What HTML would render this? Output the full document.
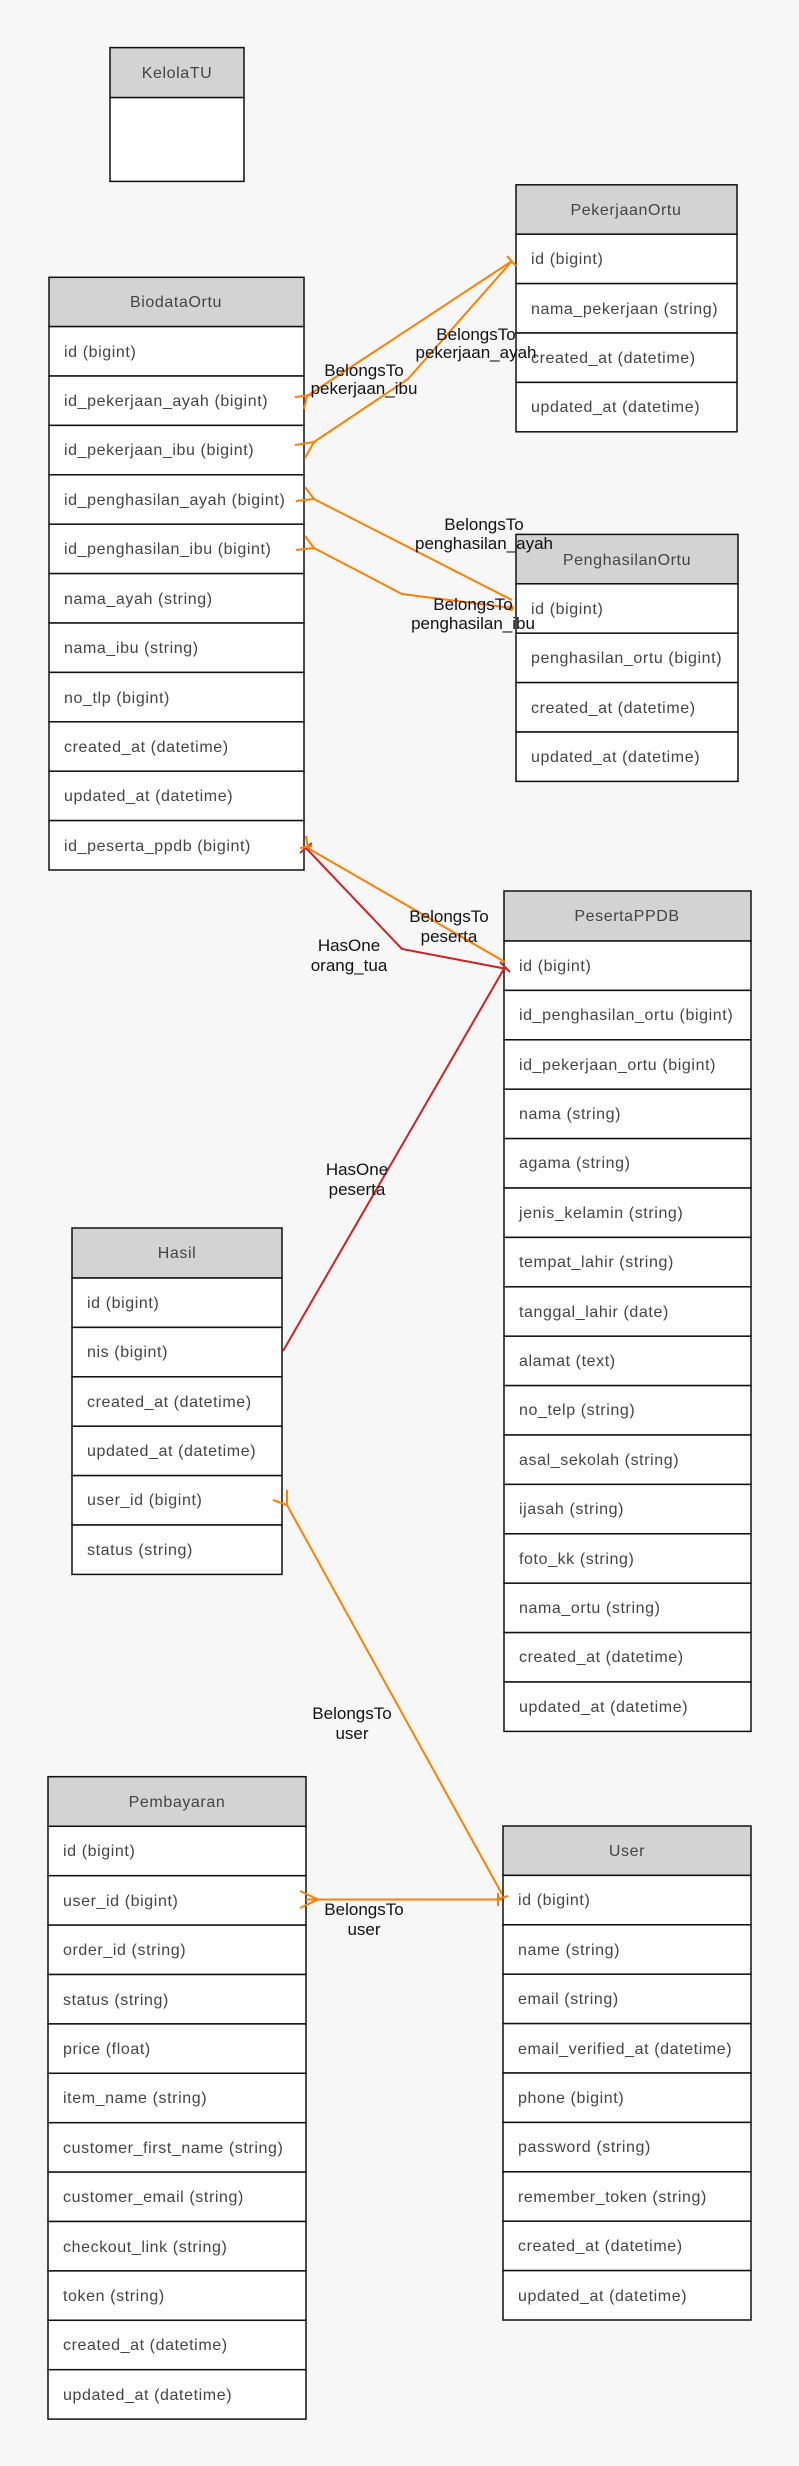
<!DOCTYPE html>
<html><head><meta charset="utf-8"><style>
html,body{margin:0;padding:0;background:#f7f7f7;}
svg{display:block;}
.t{font-family:"Liberation Sans",sans-serif;font-size:16px;letter-spacing:0.6px;fill:#444;}
.h{font-family:"Liberation Sans",sans-serif;font-size:16px;letter-spacing:0.6px;fill:#444;text-anchor:middle;}
.l{font-family:"Liberation Sans",sans-serif;font-size:17px;fill:#111;text-anchor:middle;}
.r{fill:#fff;stroke:#111;stroke-width:1.5;}
.hd{fill:#d3d3d3;stroke:#111;stroke-width:1.5;}
.o{stroke:#ff7f00;stroke-width:2;fill:none;}
.rd{stroke:#d42020;stroke-width:2;fill:none;}
</style></head><body>
<svg width="799" height="2466" viewBox="0 0 799 2466" xmlns="http://www.w3.org/2000/svg">
<rect width="799" height="2466" fill="#f7f7f7"/>

<!-- KelolaTU -->
<rect class="hd" x="110" y="47.6" width="134" height="50"/>
<text class="h" x="177" y="78">KelolaTU</text>
<rect class="r" x="110" y="97.6" width="134" height="83.8"/>

<!-- PekerjaanOrtu -->
<rect class="hd" x="516" y="184.8" width="221" height="49.4"/>
<text class="h" x="626" y="215">PekerjaanOrtu</text>
<rect class="r" x="516" y="234.2" width="221" height="49.4"/><text class="t" x="531" y="264">id (bigint)</text>
<rect class="r" x="516" y="283.6" width="221" height="49.4"/><text class="t" x="531" y="314">nama_pekerjaan (string)</text>
<rect class="r" x="516" y="333" width="221" height="49.4"/><text class="t" x="531" y="363">created_at (datetime)</text>
<rect class="r" x="516" y="382.4" width="221" height="49.4"/><text class="t" x="531" y="412">updated_at (datetime)</text>

<!-- BiodataOrtu -->
<rect class="hd" x="49" y="277.3" width="255" height="49.3"/>
<text class="h" x="176" y="307">BiodataOrtu</text>
<rect class="r" x="49" y="326.6" width="255" height="49.4"/><text class="t" x="64" y="357">id (bigint)</text>
<rect class="r" x="49" y="376" width="255" height="49.4"/><text class="t" x="64" y="406">id_pekerjaan_ayah (bigint)</text>
<rect class="r" x="49" y="425.4" width="255" height="49.4"/><text class="t" x="64" y="455">id_pekerjaan_ibu (bigint)</text>
<rect class="r" x="49" y="474.8" width="255" height="49.4"/><text class="t" x="64" y="505">id_penghasilan_ayah (bigint)</text>
<rect class="r" x="49" y="524.2" width="255" height="49.4"/><text class="t" x="64" y="554">id_penghasilan_ibu (bigint)</text>
<rect class="r" x="49" y="573.6" width="255" height="49.4"/><text class="t" x="64" y="604">nama_ayah (string)</text>
<rect class="r" x="49" y="623" width="255" height="49.4"/><text class="t" x="64" y="653">nama_ibu (string)</text>
<rect class="r" x="49" y="672.4" width="255" height="49.4"/><text class="t" x="64" y="703">no_tlp (bigint)</text>
<rect class="r" x="49" y="721.8" width="255" height="49.4"/><text class="t" x="64" y="752">created_at (datetime)</text>
<rect class="r" x="49" y="771.2" width="255" height="49.4"/><text class="t" x="64" y="801">updated_at (datetime)</text>
<rect class="r" x="49" y="820.6" width="255" height="49.4"/><text class="t" x="64" y="851">id_peserta_ppdb (bigint)</text>

<!-- PenghasilanOrtu -->
<rect class="hd" x="516" y="534.4" width="222" height="49.4"/>
<text class="h" x="627" y="565">PenghasilanOrtu</text>
<rect class="r" x="516" y="583.8" width="222" height="49.4"/><text class="t" x="531" y="614">id (bigint)</text>
<rect class="r" x="516" y="633.2" width="222" height="49.4"/><text class="t" x="531" y="663">penghasilan_ortu (bigint)</text>
<rect class="r" x="516" y="682.6" width="222" height="49.4"/><text class="t" x="531" y="713">created_at (datetime)</text>
<rect class="r" x="516" y="732" width="222" height="49.4"/><text class="t" x="531" y="762">updated_at (datetime)</text>

<!-- PesertaPPDB -->
<rect class="hd" x="504" y="891" width="247" height="50"/>
<text class="h" x="627" y="921">PesertaPPDB</text>
<rect class="r" x="504" y="941" width="247" height="49.4"/><text class="t" x="519" y="971">id (bigint)</text>
<rect class="r" x="504" y="990.4" width="247" height="49.4"/><text class="t" x="519" y="1020">id_penghasilan_ortu (bigint)</text>
<rect class="r" x="504" y="1039.8" width="247" height="49.4"/><text class="t" x="519" y="1070">id_pekerjaan_ortu (bigint)</text>
<rect class="r" x="504" y="1089.2" width="247" height="49.4"/><text class="t" x="519" y="1119">nama (string)</text>
<rect class="r" x="504" y="1138.6" width="247" height="49.4"/><text class="t" x="519" y="1168">agama (string)</text>
<rect class="r" x="504" y="1188" width="247" height="49.4"/><text class="t" x="519" y="1218">jenis_kelamin (string)</text>
<rect class="r" x="504" y="1237.4" width="247" height="49.4"/><text class="t" x="519" y="1267">tempat_lahir (string)</text>
<rect class="r" x="504" y="1286.8" width="247" height="49.4"/><text class="t" x="519" y="1317">tanggal_lahir (date)</text>
<rect class="r" x="504" y="1336.2" width="247" height="49.4"/><text class="t" x="519" y="1366">alamat (text)</text>
<rect class="r" x="504" y="1385.6" width="247" height="49.4"/><text class="t" x="519" y="1415">no_telp (string)</text>
<rect class="r" x="504" y="1435" width="247" height="49.4"/><text class="t" x="519" y="1465">asal_sekolah (string)</text>
<rect class="r" x="504" y="1484.4" width="247" height="49.4"/><text class="t" x="519" y="1514">ijasah (string)</text>
<rect class="r" x="504" y="1533.8" width="247" height="49.4"/><text class="t" x="519" y="1564">foto_kk (string)</text>
<rect class="r" x="504" y="1583.2" width="247" height="49.4"/><text class="t" x="519" y="1613">nama_ortu (string)</text>
<rect class="r" x="504" y="1632.6" width="247" height="49.4"/><text class="t" x="519" y="1662">created_at (datetime)</text>
<rect class="r" x="504" y="1682" width="247" height="49.4"/><text class="t" x="519" y="1712">updated_at (datetime)</text>

<!-- Hasil -->
<rect class="hd" x="72" y="1228" width="210" height="50"/>
<text class="h" x="177" y="1258">Hasil</text>
<rect class="r" x="72" y="1278" width="210" height="49.4"/><text class="t" x="87" y="1308">id (bigint)</text>
<rect class="r" x="72" y="1327.4" width="210" height="49.4"/><text class="t" x="87" y="1357">nis (bigint)</text>
<rect class="r" x="72" y="1376.8" width="210" height="49.4"/><text class="t" x="87" y="1407">created_at (datetime)</text>
<rect class="r" x="72" y="1426.2" width="210" height="49.4"/><text class="t" x="87" y="1456">updated_at (datetime)</text>
<rect class="r" x="72" y="1475.6" width="210" height="49.4"/><text class="t" x="87" y="1505">user_id (bigint)</text>
<rect class="r" x="72" y="1525" width="210" height="49.4"/><text class="t" x="87" y="1555">status (string)</text>

<!-- Pembayaran -->
<rect class="hd" x="48" y="1776.7" width="258" height="49.6"/>
<text class="h" x="177" y="1807">Pembayaran</text>
<rect class="r" x="48" y="1826.3" width="258" height="49.4"/><text class="t" x="63" y="1856">id (bigint)</text>
<rect class="r" x="48" y="1875.7" width="258" height="49.4"/><text class="t" x="63" y="1906">user_id (bigint)</text>
<rect class="r" x="48" y="1925.1" width="258" height="49.4"/><text class="t" x="63" y="1955">order_id (string)</text>
<rect class="r" x="48" y="1974.5" width="258" height="49.4"/><text class="t" x="63" y="2005">status (string)</text>
<rect class="r" x="48" y="2023.9" width="258" height="49.4"/><text class="t" x="63" y="2054">price (float)</text>
<rect class="r" x="48" y="2073.3" width="258" height="49.4"/><text class="t" x="63" y="2103">item_name (string)</text>
<rect class="r" x="48" y="2122.7" width="258" height="49.4"/><text class="t" x="63" y="2153">customer_first_name (string)</text>
<rect class="r" x="48" y="2172.1" width="258" height="49.4"/><text class="t" x="63" y="2202">customer_email (string)</text>
<rect class="r" x="48" y="2221.5" width="258" height="49.4"/><text class="t" x="63" y="2252">checkout_link (string)</text>
<rect class="r" x="48" y="2270.9" width="258" height="49.4"/><text class="t" x="63" y="2301">token (string)</text>
<rect class="r" x="48" y="2320.3" width="258" height="49.4"/><text class="t" x="63" y="2350">created_at (datetime)</text>
<rect class="r" x="48" y="2369.7" width="258" height="49.4"/><text class="t" x="63" y="2400">updated_at (datetime)</text>

<!-- User -->
<rect class="hd" x="503" y="1826" width="248" height="49.4"/>
<text class="h" x="627" y="1856">User</text>
<rect class="r" x="503" y="1875.4" width="248" height="49.4"/><text class="t" x="518" y="1905">id (bigint)</text>
<rect class="r" x="503" y="1924.8" width="248" height="49.4"/><text class="t" x="518" y="1955">name (string)</text>
<rect class="r" x="503" y="1974.2" width="248" height="49.4"/><text class="t" x="518" y="2004">email (string)</text>
<rect class="r" x="503" y="2023.6" width="248" height="49.4"/><text class="t" x="518" y="2054">email_verified_at (datetime)</text>
<rect class="r" x="503" y="2073" width="248" height="49.4"/><text class="t" x="518" y="2103">phone (bigint)</text>
<rect class="r" x="503" y="2122.4" width="248" height="49.4"/><text class="t" x="518" y="2152">password (string)</text>
<rect class="r" x="503" y="2171.8" width="248" height="49.4"/><text class="t" x="518" y="2202">remember_token (string)</text>
<rect class="r" x="503" y="2221.2" width="248" height="49.4"/><text class="t" x="518" y="2251">created_at (datetime)</text>
<rect class="r" x="503" y="2270.6" width="248" height="49.4"/><text class="t" x="518" y="2301">updated_at (datetime)</text>

<!-- Edges -->
<polyline class="o" points="307,396 512,261"/>
<path class="o" d="M295,397 L312,395 M307,396 L304,409"/>
<polyline class="o" points="314,442 408,379 512,261"/>
<path class="o" d="M295,445 L314,442 L305,458"/>
<path class="o" d="M507,256 L516,266"/>
<polyline class="o" points="314,499 512,600"/>
<path class="o" d="M296,501 L314,499 L305,487"/>
<polyline class="o" points="314,548 402,594 512,608"/>
<path class="o" d="M296,550 L314,548 L305,536"/>
<circle cx="511" cy="608" r="3" fill="#ff7f00"/>
<polyline class="o" points="306,847 505,962"/>
<polyline class="rd" points="306,848 402,949 507,969"/>
<path class="rd" d="M300,853 L312,843"/>
<path class="o" d="M306,836 L308,848 M300,848 L312,846"/>
<path class="rd" d="M500,962 L510,972"/>
<polyline class="rd" points="283,1351 505,967"/>
<polyline class="o" points="287,1505 502,1894"/>
<path class="o" d="M273,1500 L287,1505 L287,1490"/>
<polyline class="o" points="306,1899.5 502,1899.5"/>
<path class="o" d="M300,1891 L318,1899.5 L300,1908"/>
<path class="o" d="M498,1893 L498,1906 M496,1899.5 L508,1896"/>

<!-- Labels -->
<text class="l" x="364" y="376">BelongsTo</text><text class="l" x="364" y="394">pekerjaan_ibu</text>
<text class="l" x="476" y="340">BelongsTo</text><text class="l" x="476" y="358">pekerjaan_ayah</text>
<text class="l" x="484" y="530">BelongsTo</text><text class="l" x="484" y="549">penghasilan_ayah</text>
<text class="l" x="473" y="610">BelongsTo</text><text class="l" x="473" y="629">penghasilan_ibu</text>
<text class="l" x="449" y="922">BelongsTo</text><text class="l" x="449" y="942">peserta</text>
<text class="l" x="349" y="951">HasOne</text><text class="l" x="349" y="971">orang_tua</text>
<text class="l" x="357" y="1175">HasOne</text><text class="l" x="357" y="1195">peserta</text>
<text class="l" x="352" y="1719">BelongsTo</text><text class="l" x="352" y="1739">user</text>
<text class="l" x="364" y="1915">BelongsTo</text><text class="l" x="364" y="1935">user</text>
</svg>
</body></html>
